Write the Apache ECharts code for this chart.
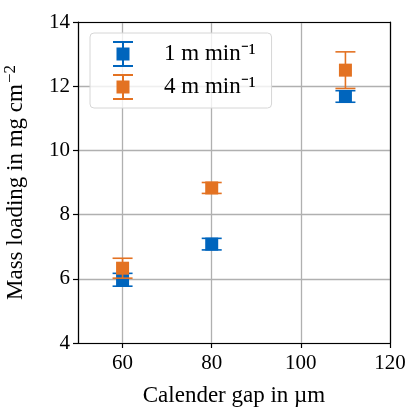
<!DOCTYPE html>
<html>
<head>
<meta charset="utf-8">
<script src="https://cdn.jsdelivr.net/npm/echarts@6/dist/echarts.min.js"></script>
<style>
  html, body { margin: 0; padding: 0; background: #fff; }
  #chart { width: 409px; height: 408px; }
</style>
</head>
<body>
<div id="chart"></div>
<script>
// calender gap (um) and mass loading (mg/cm2) with std deviation
var gaps = [60, 80, 110];
var load1 = [5.97, 7.08, 11.68];
var err1 = [0.20, 0.18, 0.18];
var load4 = [6.33, 8.83, 12.50];
var err4 = [0.31, 0.17, 0.57];
var names = ['1 m min\u207B\u00B9', '4 m min\u207B\u00B9'];
var colors = ['#0065BD', '#E37222'];

var font = 'Liberation Serif';
var errIcon = 'path://M0 0H20V2H0Z M9 0H11V26H9Z M3.5 6.5H16.5V19.5H3.5Z M0 24H20V26H0Z';

function errSeries(vals, errs, color, z) {
  var data = gaps.map(function (g, i) { return [g, vals[i] - errs[i], vals[i] + errs[i]]; });
  return {
    type: 'custom',
    z: z,
    silent: true,
    data: data,
    encode: { x: 0, y: [1, 2] },
    renderItem: function (params, api) {
      var lo = api.coord([api.value(0), api.value(1)]);
      var hi = api.coord([api.value(0), api.value(2)]);
      var w = 10;
      var st = { stroke: color, lineWidth: 1.6 };
      return {
        type: 'group',
        children: [
          { type: 'line', shape: { x1: lo[0], y1: lo[1], x2: hi[0], y2: hi[1] }, style: st },
          { type: 'line', shape: { x1: lo[0] - w, y1: lo[1], x2: lo[0] + w, y2: lo[1] }, style: st },
          { type: 'line', shape: { x1: hi[0] - w, y1: hi[1], x2: hi[0] + w, y2: hi[1] }, style: st }
        ]
      };
    }
  };
}

function pointSeries(name, vals, color, z) {
  return {
    type: 'scatter',
    name: name,
    z: z,
    symbol: 'rect',
    symbolSize: 13,
    itemStyle: { color: color, opacity: 1 },
    data: gaps.map(function (g, i) { return [g, vals[i]]; })
  };
}

var frameAxis = {
  show: true,
  axisLine: { show: true, onZero: false, lineStyle: { color: '#000', width: 1.2 } },
  axisTick: { show: false },
  axisLabel: { show: false },
  splitLine: { show: false }
};

var chart = echarts.init(document.getElementById('chart'));
chart.setOption({
  animation: false,
  color: colors,
  grid: { left: 78, right: 19, top: 22, bottom: 65, containLabel: false, outerBoundsMode: 'none' },
  legend: {
    orient: 'vertical',
    left: 90,
    top: 33,
    padding: [8, 16, 8, 23],
    itemGap: 7,
    itemWidth: 20,
    itemHeight: 26,
    backgroundColor: 'rgba(255,255,255,0.8)',
    borderColor: '#d6d6d6',
    borderWidth: 1,
    borderRadius: 4,
    textStyle: { fontFamily: font, fontSize: 23, color: '#000', padding: [0, 0, 0, 26] },
    data: [
      { name: names[0], icon: errIcon, itemStyle: { opacity: 1 } },
      { name: names[1], icon: errIcon, itemStyle: { opacity: 1 } }
    ]
  },
  xAxis: [{
    type: 'value',
    min: 50,
    max: 120,
    splitNumber: 4,
    name: 'Calender gap in \u00B5m',
    nameLocation: 'middle',
    nameGap: 41,
    nameTextStyle: { fontFamily: font, fontSize: 23, color: '#000' },
    axisLine: { onZero: false, lineStyle: { color: '#000', width: 1.2 } },
    axisTick: { length: 5, lineStyle: { color: '#000', width: 1.2 } },
    axisLabel: { showMinLabel: false, fontFamily: font, fontSize: 21, color: '#000', margin: 10 },
    splitLine: { show: true, lineStyle: { color: '#b0b0b0', width: 1.3 } }
  }, Object.assign({ type: 'value', position: 'top', min: 50, max: 120 }, frameAxis)],
  yAxis: [{
    type: 'value',
    min: 4,
    max: 14,
    interval: 2,
    name: 'Mass loading in mg cm{sup|\u22122}',
    nameLocation: 'middle',
    nameGap: 48,
    nameTextStyle: {
      fontFamily: font, fontSize: 23, color: '#000',
      rich: { sup: { fontFamily: font, fontSize: 17, color: '#000', padding: [0, 0, 11, 1] } }
    },
    axisLine: { show: true, onZero: false, lineStyle: { color: '#000', width: 1.2 } },
    axisTick: { show: true, length: 5, lineStyle: { color: '#000', width: 1.2 } },
    axisLabel: { fontFamily: font, fontSize: 21, color: '#000', margin: 8 },
    splitLine: { show: true, lineStyle: { color: '#b0b0b0', width: 1.3 } }
  }, Object.assign({ type: 'value', position: 'right', min: 4, max: 14 }, frameAxis)],
  series: [
    errSeries(load1, err1, colors[0], 2),
    pointSeries(names[0], load1, colors[0], 3),
    errSeries(load4, err4, colors[1], 4),
    pointSeries(names[1], load4, colors[1], 5)
  ]
});
</script>
</body>
</html>
